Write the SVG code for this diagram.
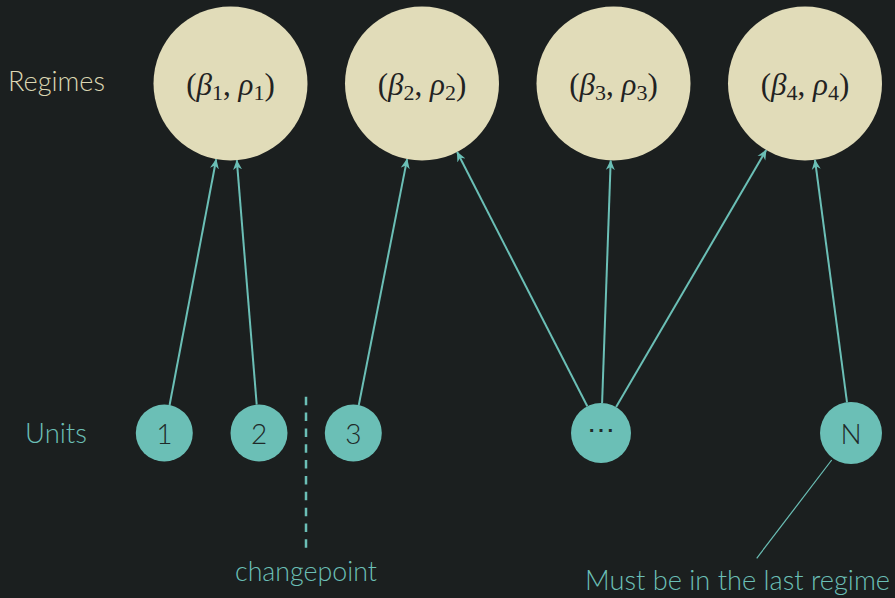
<svg xmlns="http://www.w3.org/2000/svg" width="895" height="598" viewBox="0 0 895 598">
<style>
.bg{fill:#1b1f1f}
.reg{fill:#e1dcb9}
.unit{fill:#6bbfb6}
.edge{stroke:#6bbfb6;stroke-width:2;fill:none}
.lbl{font-family:Lato,"Open Sans",sans-serif;font-size:27px;font-weight:300}
.math{font-family:"Liberation Serif",serif;font-size:31px;fill:#222}
.it{font-style:italic}
.sub{font-size:22px}
.num{font-family:Lato,"Open Sans",sans-serif;font-size:28px;font-weight:300;fill:#1f2a29;text-anchor:middle}
</style>
<defs>
<marker id="ah" viewBox="0 0 10 10" refX="9.5" refY="5" markerWidth="10" markerHeight="10" markerUnits="userSpaceOnUse" orient="auto">
<path d="M0,0.5 L10,5 L0,9.5 L3,5 Z" fill="#6bbfb6"/>
</marker>
</defs>
<rect class="bg" x="0" y="0" width="895" height="598"/>
<text class="lbl" x="8" y="90.7" fill="#dcd7b3" textLength="97" lengthAdjust="spacingAndGlyphs">Regimes</text>
<text class="lbl" x="25" y="443" fill="#6bbfb6" textLength="62" lengthAdjust="spacingAndGlyphs">Units</text>

<g id="regime1"><circle class="reg" cx="230.5" cy="83.5" r="77"/><text class="math" x="230.5" y="95" text-anchor="middle">(<tspan class="it">β</tspan><tspan class="sub" dy="5">1</tspan><tspan dy="-5">, </tspan><tspan class="it">ρ</tspan><tspan class="sub" dy="5">1</tspan><tspan dy="-5">)</tspan></text></g>
<g id="regime2"><circle class="reg" cx="422" cy="83.5" r="77"/><text class="math" x="422" y="95" text-anchor="middle">(<tspan class="it">β</tspan><tspan class="sub" dy="5">2</tspan><tspan dy="-5">, </tspan><tspan class="it">ρ</tspan><tspan class="sub" dy="5">2</tspan><tspan dy="-5">)</tspan></text></g>
<g id="regime3"><circle class="reg" cx="613.5" cy="83.5" r="77"/><text class="math" x="613.5" y="95" text-anchor="middle">(<tspan class="it">β</tspan><tspan class="sub" dy="5">3</tspan><tspan dy="-5">, </tspan><tspan class="it">ρ</tspan><tspan class="sub" dy="5">3</tspan><tspan dy="-5">)</tspan></text></g>
<g id="regime4"><circle class="reg" cx="805" cy="83.5" r="77"/><text class="math" x="805" y="95" text-anchor="middle">(<tspan class="it">β</tspan><tspan class="sub" dy="5">4</tspan><tspan dy="-5">, </tspan><tspan class="it">ρ</tspan><tspan class="sub" dy="5">4</tspan><tspan dy="-5">)</tspan></text></g>

<g id="unit1"><circle class="unit" cx="164.3" cy="433" r="28.5"/><text class="num" x="164.3" y="444">1</text></g>
<g id="unit2"><circle class="unit" cx="259" cy="433" r="28.5"/><text class="num" x="259" y="444">2</text></g>
<g id="unit3"><circle class="unit" cx="353.3" cy="433" r="28.5"/><text class="num" x="353.3" y="444">3</text></g>
<g id="unitdots"><circle class="unit" cx="601" cy="433" r="30"/><text class="num" x="601" y="439" style="font-family:'DejaVu Sans',sans-serif;font-size:28px">⋯</text></g>
<g id="unitN"><circle class="unit" cx="851" cy="433" r="31"/><text class="num" x="851" y="444">N</text></g>

<g id="connectors">
<line class="edge" x1="169.6" y1="405" x2="216.2" y2="159.2" marker-end="url(#ah)"/>
<line class="edge" x1="256.7" y1="404.6" x2="236.8" y2="160.2" marker-end="url(#ah)"/>
<line class="edge" x1="358.8" y1="405" x2="407.1" y2="159.1" marker-end="url(#ah)"/>
<line class="edge" x1="587.3" y1="406.3" x2="457.1" y2="152" marker-end="url(#ah)"/>
<line class="edge" x1="602.1" y1="403" x2="610.7" y2="160.5" marker-end="url(#ah)"/>
<line class="edge" x1="616.1" y1="407.1" x2="766.2" y2="150" marker-end="url(#ah)"/>
<line class="edge" x1="847" y1="402.3" x2="815" y2="159.9" marker-end="url(#ah)"/>
</g>

<g id="changepoint">
<line x1="306" y1="396.7" x2="306" y2="548.5" stroke="#6bbfb6" stroke-width="2.5" stroke-dasharray="8.5 7.35"/>
<text class="lbl" x="235" y="581" fill="#6bbfb6" textLength="142" lengthAdjust="spacingAndGlyphs">changepoint</text>
</g>
<g id="note">
<line x1="831.7" y1="460" x2="756.7" y2="558.3" stroke="#6bbfb6" stroke-width="1.2"/>
<text class="lbl" x="585" y="590" fill="#6bbfb6" textLength="305" lengthAdjust="spacingAndGlyphs">Must be in the last regime</text>
</g>
</svg>
